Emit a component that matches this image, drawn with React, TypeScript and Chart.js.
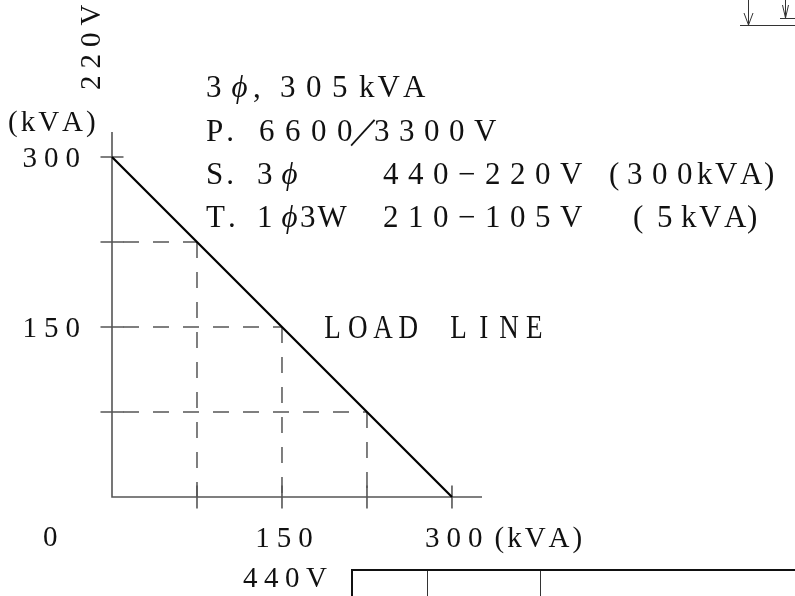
import React, { useEffect, useRef } from "react";
import { Chart, registerables } from "chart.js";

Chart.register(...registerables);

// ---- data ----
const loadLineX = [0, 300];
const loadLineY = [300, 0];
const guideX = [75, 150, 225];
const guideY = [225, 150, 75];
const xTickValues = [75, 150, 225, 300];
const yTickValues = [75, 150, 225, 300];
const yLabelValues = [300, 150];
const yLabelTexts = ["300", "150"];
const xLabelValues = [150, 300];
const xLabelTexts = ["150", "300"];
const unitLabel = "(kVA)";
const originLabel = "0";
const specLine1 = ["3ϕ", ",", "305", "kVA"];
const specLine2 = ["P.", "6600", "／", "3300V"];
const specLine3 = ["S.", "3ϕ", "440−220V", "(", "300", "kVA", ")"];
const specLine4 = ["T.", "1ϕ", "3W", "210−105V", "(", "5", "kVA", ")"];
const loadLineLabel = "LOAD LINE";
const topVoltage = "220V";
const bottomVoltage = "440V";

const FONT = '"Liberation Serif", "DejaVu Serif", serif';
const AXIS = "#555";

function setFont(ctx: CanvasRenderingContext2D, size: number, ch: string) {
  const italic = ch === "ϕ";
  ctx.font = `${italic ? "italic " : ""}${size}px ${FONT}`;
}

// draws a run char by char; advance = glyph width + gap
function run(ctx: CanvasRenderingContext2D, s: string, x: number, y: number, size: number, gap: number) {
  ctx.fillStyle = "#111";
  ctx.textAlign = "left";
  ctx.textBaseline = "alphabetic";
  (ctx as any).letterSpacing = "0px";
  let cx = x;
  for (const ch of s) {
    setFont(ctx, size, ch);
    ctx.fillText(ch, cx, y);
    cx += ctx.measureText(ch).width + gap;
  }
  return cx - gap;
}

function runWidth(ctx: CanvasRenderingContext2D, s: string, size: number, gap: number) {
  let w = 0;
  const chars = [...s];
  chars.forEach((ch, i) => {
    setFont(ctx, size, ch);
    w += ctx.measureText(ch).width + (i < chars.length - 1 ? gap : 0);
  });
  return w;
}

function runRight(ctx: CanvasRenderingContext2D, s: string, xr: number, y: number, size: number, gap: number) {
  run(ctx, s, xr - runWidth(ctx, s, size, gap), y, size, gap);
}

function runCenter(ctx: CanvasRenderingContext2D, s: string, xc: number, y: number, size: number, gap: number) {
  run(ctx, s, xc - runWidth(ctx, s, size, gap) / 2, y, size, gap);
}

// monospace cells, each char centered and horizontally condensed
function cells(ctx: CanvasRenderingContext2D, s: string, x: number, y: number, size: number, cell: number, sx: number) {
  ctx.fillStyle = "#111";
  ctx.textAlign = "center";
  ctx.textBaseline = "alphabetic";
  (ctx as any).letterSpacing = "0px";
  ctx.font = `${size}px ${FONT}`;
  [...s].forEach((ch, i) => {
    ctx.save();
    ctx.translate(x + cell * i + cell / 2, y);
    ctx.scale(sx, 1);
    ctx.fillText(ch, 0, 0);
    ctx.restore();
  });
}

const drawPlugin = {
  id: "drawing",
  beforeDatasetsDraw(chart: any) {
    const { ctx, chartArea } = chart;
    const xs = chart.scales.x;
    const ys = chart.scales.y;
    const x0 = xs.getPixelForValue(0);
    const y0 = ys.getPixelForValue(0);
    ctx.save();
    ctx.strokeStyle = AXIS;
    ctx.lineWidth = 1.6;
    ctx.beginPath();
    ctx.moveTo(chartArea.right, y0);
    ctx.lineTo(x0, y0);
    ctx.lineTo(x0, chartArea.top);
    ctx.stroke();
    ctx.beginPath();
    xTickValues.forEach((v) => {
      const px = xs.getPixelForValue(v);
      ctx.moveTo(px, y0 - 11.5);
      ctx.lineTo(px, y0 + 11.5);
    });
    yTickValues.forEach((v) => {
      const py = ys.getPixelForValue(v);
      ctx.moveTo(x0 - 11.5, py);
      ctx.lineTo(x0 + 11.5, py);
    });
    ctx.stroke();
    ctx.restore();
  },
  afterDraw(chart: any) {
    const { ctx } = chart;
    const xs = chart.scales.x;
    const ys = chart.scales.y;
    const x0 = xs.getPixelForValue(0);
    const y0 = ys.getPixelForValue(0);
    ctx.save();
    // y tick labels
    yLabelValues.forEach((v, i) => {
      runRight(ctx, yLabelTexts[i], 80, ys.getPixelForValue(v) + 10, 29, 7);
    });
    run(ctx, unitLabel, 8, ys.getPixelForValue(300) - 26, 29, 3);
    // x tick labels
    runCenter(ctx, xLabelTexts[0], xs.getPixelForValue(xLabelValues[0]) + 2, y0 + 50, 29, 7);
    const e = run(ctx, xLabelTexts[1], xs.getPixelForValue(xLabelValues[1]) - 27, y0 + 50, 29, 7);
    run(ctx, unitLabel, e + 12, y0 + 50, 29, 3);
    run(ctx, originLabel, x0 - 69, y0 + 49, 29, 0);
    // spec text
    const S = 31;
    let y = 97;
    run(ctx, specLine1[0], 206, y, S, 10);
    run(ctx, specLine1[1], 253, y, S, 0);
    run(ctx, specLine1[2], 280, y, S, 10.5);
    run(ctx, specLine1[3], 359, y, S, 3);
    y = 141;
    run(ctx, specLine2[0], 206, y, S, 3);
    run(ctx, specLine2[1], 259, y, S, 10.5);
    run(ctx, specLine2[2], 349, y, S, 0);
    run(ctx, specLine2[3], 374, y, S, 9.5);
    y = 184;
    run(ctx, specLine3[0], 206, y, S, 3);
    run(ctx, specLine3[1], 257, y, S, 9);
    run(ctx, specLine3[2], 383, y, S, 9.5);
    run(ctx, specLine3[3], 609, y, S, 0);
    run(ctx, specLine3[4], 627, y, S, 9.5);
    run(ctx, specLine3[5], 697, y, S, 2.5);
    run(ctx, specLine3[6], 764, y, S, 0);
    y = 227;
    run(ctx, specLine4[0], 206, y, S, 3);
    run(ctx, specLine4[1], 257, y, S, 9);
    run(ctx, specLine4[2], 300, y, S, 2);
    run(ctx, specLine4[3], 383, y, S, 9.5);
    run(ctx, specLine4[4], 633, y, S, 0);
    run(ctx, specLine4[5], 657, y, S, 0);
    run(ctx, specLine4[6], 681, y, S, 2.5);
    run(ctx, specLine4[7], 747, y, S, 0);
    // load line label
    cells(ctx, loadLineLabel, 320, 338, 33, 25.2, 0.82);
    // rotated 220V
    ctx.save();
    ctx.translate(100, 90);
    ctx.rotate(-Math.PI / 2);
    run(ctx, topVoltage, 0, 0, 29, 7);
    ctx.restore();
    run(ctx, bottomVoltage, 243, 587, 29, 6.5);
    // top-right arrows
    ctx.strokeStyle = "#333";
    ctx.lineWidth = 1;
    ctx.beginPath();
    ctx.moveTo(740, 25.5); ctx.lineTo(795, 25.5);
    ctx.moveTo(780, 18.5); ctx.lineTo(795, 18.5);
    ctx.moveTo(748.5, 0); ctx.lineTo(748.5, 25);
    ctx.moveTo(744, 13); ctx.lineTo(748.5, 25); ctx.lineTo(753, 13);
    ctx.moveTo(785.5, 0); ctx.lineTo(785.5, 18);
    ctx.moveTo(782.5, 5); ctx.lineTo(785.5, 18); ctx.lineTo(788.5, 5);
    ctx.stroke();
    // bottom box
    ctx.strokeStyle = "#111";
    ctx.lineWidth = 2;
    ctx.beginPath();
    ctx.moveTo(352, 596); ctx.lineTo(352, 570); ctx.lineTo(795, 570);
    ctx.stroke();
    ctx.lineWidth = 1;
    ctx.strokeStyle = "#333";
    ctx.beginPath();
    ctx.moveTo(427.5, 571); ctx.lineTo(427.5, 596);
    ctx.moveTo(540.5, 571); ctx.lineTo(540.5, 596);
    ctx.stroke();
    ctx.restore();
  },
};

export default function App() {
  const ref = useRef<HTMLCanvasElement | null>(null);
  useEffect(() => {
    if (!ref.current) return;
    const datasets: any[] = [
      {
        data: loadLineX.map((x, i) => ({ x, y: loadLineY[i] })),
        borderColor: "#000",
        borderWidth: 2.2,
        showLine: true,
        pointRadius: 0,
        clip: false,
      },
    ];
    guideX.forEach((gx, i) => {
      datasets.push({
        data: [{ x: 0, y: guideY[i] }, { x: gx, y: guideY[i] }],
        borderColor: AXIS,
        borderWidth: 1.5,
        borderDash: [16, 14],
        borderDashOffset: 19,
        showLine: true,
        pointRadius: 0,
        clip: false,
      });
      datasets.push({
        data: [{ x: gx, y: guideY[i] }, { x: gx, y: 0 }],
        borderColor: AXIS,
        borderWidth: 1.5,
        borderDash: [16, 14],
        showLine: true,
        pointRadius: 0,
        clip: false,
      });
    });
    const chart = new Chart(ref.current, {
      type: "scatter",
      data: { datasets },
      options: {
        animation: false,
        responsive: false,
        events: [],
        layout: { padding: { left: 112, right: 313, top: 132, bottom: 99 } },
        plugins: { legend: { display: false }, tooltip: { enabled: false } },
        scales: {
          x: { type: "linear", min: 0, max: 326.5, display: false },
          y: { type: "linear", min: 0, max: 322, display: false },
        },
      },
      plugins: [drawPlugin],
    } as any);
    return () => chart.destroy();
  }, []);
  return (
    <div style={{ position: "fixed", left: 0, top: 0, width: 795, height: 596, background: "#fff" }}>
      <canvas ref={ref} width={795} height={596} />
    </div>
  );
}
